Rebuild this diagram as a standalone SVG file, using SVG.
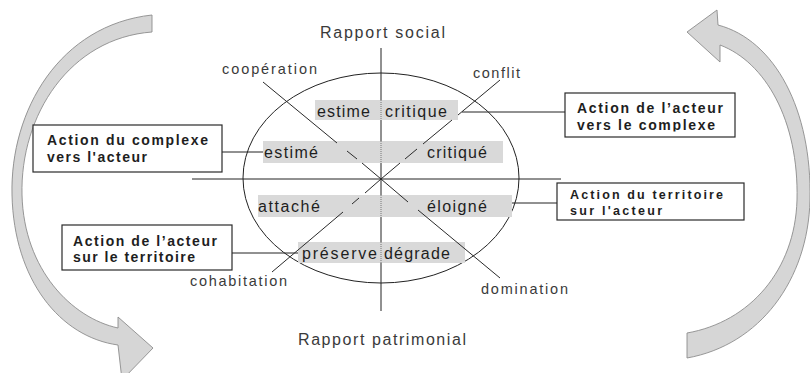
<svg xmlns="http://www.w3.org/2000/svg" width="810" height="373" viewBox="0 0 810 373">
<defs>
<style>
.lbl{font-family:"Liberation Sans",Arial,sans-serif;font-size:14.5px;fill:#3a3a3a}
.axis{font-family:"Liberation Sans",Arial,sans-serif;font-size:16px;fill:#3a3a3a}
.band{fill:#d9d9d9}
.bt{font-family:"Liberation Sans",Arial,sans-serif;font-size:16px;fill:#1e1e1e}
.box{fill:#fff;stroke:#2a2a2a;stroke-width:1.2}
.bx{font-family:"Liberation Sans",Arial,sans-serif;font-size:14px;font-weight:bold;fill:#1e1e1e}
.bxs{font-size:12.5px}
.ln{stroke:#222;stroke-width:1;fill:none}
.arr{fill:#d6d6d6;stroke:#8c8c8c;stroke-width:0.9}
</style>
<clipPath id="clip3"><rect x="565" y="93" width="170" height="38.5"/></clipPath>
</defs>

<g id="cycle-arrows">
<path class="arr" d="M152,15 C60,25 10,110 12,195 C14,280 60,337 118,345 L122,380 L153,348 L118,317 L118,328 C72,318 24,270 22,195 C20,115 70,38 152,32 Z"/>
<path class="arr" d="M718,25 C775,40 812,110 810,200 C808,280 760,345 687,358 L687,333 C750,322 795,270 797,200 C799,120 765,62 720,45 L720,62 L687,32 L717,10 Z"/>
</g>

<g id="connectors">
<ellipse class="ln" cx="381" cy="178" rx="138" ry="105" stroke="#333"/>
<line class="ln" x1="381" y1="48" x2="381" y2="311"/>
<line class="ln" x1="192" y1="179" x2="561" y2="179"/>
<line class="ln" x1="222" y1="152" x2="264" y2="152"/>
<line class="ln" x1="232" y1="253" x2="298" y2="253"/>
<line class="ln" x1="462" y1="112" x2="565" y2="112"/>
<line class="ln" x1="512" y1="203" x2="557" y2="203"/>
</g>

<g id="bands">
<rect class="band" x="315" y="100" width="143" height="20"/>
<rect class="band" x="263" y="141" width="240" height="22"/>
<rect class="band" x="258" y="195" width="254" height="22"/>
<rect class="band" x="298" y="242" width="167" height="21"/>
<g stroke="#777" stroke-width="1" stroke-dasharray="1 1">
<line x1="381" y1="100" x2="381" y2="120"/>
<line x1="381" y1="141" x2="381" y2="163"/>
<line x1="381" y1="195" x2="381" y2="217"/>
<line x1="381" y1="242" x2="381" y2="263"/>
</g>
</g>

<g id="diagonals" stroke="#2a2a2a" stroke-width="1">
<line x1="263" y1="82" x2="337" y2="143"/>
<line x1="347" y1="151" x2="357" y2="159"/>
<line x1="362" y1="163" x2="381" y2="179"/>
<line x1="381" y1="179" x2="400" y2="163"/>
<line x1="405" y1="159" x2="417" y2="149"/>
<line x1="423" y1="144" x2="452" y2="120"/>
<line x1="458" y1="115" x2="500" y2="80"/>
<line x1="381" y1="179" x2="365" y2="193"/>
<line x1="359" y1="198" x2="352" y2="204"/>
<line x1="343" y1="212" x2="272" y2="272"/>
<line x1="381" y1="179" x2="408" y2="202"/>
<line x1="418" y1="210" x2="500" y2="278"/>
</g>

<g id="band-texts">
<text class="bt" x="317" y="117" textLength="53" lengthAdjust="spacing">estime</text>
<text class="bt" x="385" y="117" textLength="62" lengthAdjust="spacing">critique</text>
<text class="bt" x="264" y="158" textLength="54" lengthAdjust="spacing">estimé</text>
<text class="bt" x="427" y="158" textLength="60" lengthAdjust="spacing">critiqué</text>
<text class="bt" x="258" y="212" textLength="62" lengthAdjust="spacing">attaché</text>
<text class="bt" x="427" y="212" textLength="60" lengthAdjust="spacing">éloigné</text>
<text class="bt" x="302" y="259" textLength="75" lengthAdjust="spacing">préserve</text>
<text class="bt" x="384" y="259" textLength="66" lengthAdjust="spacing">dégrade</text>
</g>

<g id="axis-labels">
<text class="axis" x="320" y="38" textLength="125" lengthAdjust="spacing">Rapport social</text>
<text class="axis" x="298" y="345" textLength="168" lengthAdjust="spacing">Rapport patrimonial</text>
<text class="lbl" x="222" y="74" textLength="95" lengthAdjust="spacing">coopération</text>
<text class="lbl" x="473" y="78" textLength="47" lengthAdjust="spacing">conflit</text>
<text class="lbl" x="190" y="286" textLength="97" lengthAdjust="spacing">cohabitation</text>
<text class="lbl" x="481" y="294" textLength="87" lengthAdjust="spacing">domination</text>
</g>

<g id="box-complexe-acteur">
<rect class="box" x="33" y="125" width="189" height="47"/>
<text class="bx" x="47" y="145" textLength="161" lengthAdjust="spacing">Action du complexe</text>
<text class="bx" x="47" y="162" textLength="100" lengthAdjust="spacing">vers l'acteur</text>
</g>

<g id="box-acteur-territoire">
<rect class="box" x="62" y="225" width="170" height="45"/>
<text class="bx" x="73" y="246" textLength="144" lengthAdjust="spacing">Action de l’acteur</text>
<text class="bx" x="73" y="262" textLength="122" lengthAdjust="spacing">sur le territoire</text>
</g>

<g id="box-acteur-complexe">
<rect class="box" x="565" y="93" width="170" height="44"/>
<text class="bx" x="577" y="113" textLength="146" lengthAdjust="spacing">Action de l’acteur</text>
<text class="bx" x="577" y="130" textLength="138" lengthAdjust="spacing" clip-path="url(#clip3)">vers le complexe</text>
</g>

<g id="box-territoire-acteur">
<rect class="box" x="557" y="183" width="187" height="37"/>
<text class="bx bxs" x="570" y="199" textLength="153" lengthAdjust="spacing">Action du territoire</text>
<text class="bx bxs" x="570" y="215" textLength="92" lengthAdjust="spacing">sur l'acteur</text>
</g>
</svg>
